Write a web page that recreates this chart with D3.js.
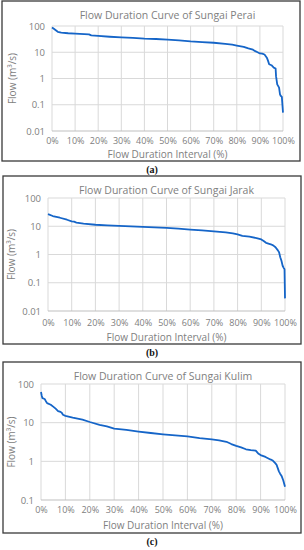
<!DOCTYPE html>
<html>
<head>
<meta charset="utf-8">
<script src="https://cdn.jsdelivr.net/npm/d3@7"></script>
<style>
  body { margin: 0; background: #fff; }
  svg { display: block; }
  text { font-family: "Open Sans", "Noto Sans", sans-serif; }
</style>
</head>
<body>
<div class="canvas"></div>
<script>
// flow duration data (percent exceeded, m3/s)
const peraiPct  = [0, 0.5, 1.5, 2.5, 4, 7, 10, 14, 16, 17, 20, 25, 30, 35, 40, 45, 50, 55, 60, 65, 70, 75, 78, 80, 83, 85, 87, 88, 89, 90, 91, 92, 93, 93.5, 94, 95, 96, 96.8, 97, 97.5, 98, 98.3, 98.7, 99, 99.5, 100];
const peraiFlow = [88, 82, 70, 60, 56, 53, 51, 49, 48, 44, 42, 39, 37, 35, 33, 32, 30, 28.5, 26, 24.5, 23, 21, 19.5, 18, 16, 14, 12.5, 11, 10, 9, 8.8, 8.2, 6.2, 4.8, 3.5, 3.2, 2.6, 2.4, 1.2, 0.6, 0.5, 0.45, 0.25, 0.22, 0.2, 0.05];

const jarakPct  = [0, 2, 5, 8, 10, 11, 12, 15, 20, 25, 30, 40, 50, 55, 60, 65, 70, 75, 78, 80, 82, 85, 88, 90, 91, 92, 94, 95, 96, 97, 97.5, 98, 98.5, 99, 99.5, 99.8, 100];
const jarakFlow = [27, 23, 20, 17, 15, 14.5, 13.5, 12.4, 11.3, 10.8, 10.3, 9.5, 8.7, 8.2, 7.6, 7.1, 6.6, 6.1, 5.6, 5.2, 4.6, 4.3, 3.8, 3.4, 3.0, 2.6, 2.3, 2.1, 1.8, 1.4, 1.2, 0.8, 0.6, 0.4, 0.33, 0.3, 0.028];

const kulimPct  = [0, 0.3, 0.6, 1.5, 2, 2.5, 4, 5, 6, 7, 8, 8.5, 9, 10, 13, 17, 20, 24, 27, 30, 35, 40, 45, 50, 55, 60, 65, 70, 73, 76, 78, 80, 82, 84, 86, 88, 89, 90, 92, 94, 95, 96, 96.6, 97.5, 98, 98.6, 99.3, 100];
const kulimFlow = [62, 50, 43, 41, 36, 32, 29, 26, 23, 20, 19, 18, 16, 15, 13.5, 12, 10.4, 8.8, 8, 7, 6.5, 5.9, 5.4, 5.0, 4.7, 4.4, 4.0, 3.7, 3.5, 3.2, 2.8, 2.5, 2.3, 2.05, 1.95, 1.9, 1.6, 1.45, 1.3, 1.12, 1.05, 0.9, 0.8, 0.55, 0.48, 0.42, 0.32, 0.22];

const xTicks = [0, 10, 20, 30, 40, 50, 60, 70, 80, 90, 100];
const yTicksAB = [0.01, 0.1, 1, 10, 100];
const yTicksC = [0.1, 1, 10, 100];
const titles = ['Flow Duration Curve of Sungai Perai', 'Flow Duration Curve of Sungai Jarak', 'Flow Duration Curve of Sungai Kulim'];
const panelLabels = ['(a)', '(b)', '(c)'];

const width = 304, height = 550;
const svg = d3.select('.canvas').append('svg')
    .attr('width', width)
    .attr('height', height);

// layout of each boxed chart
const panels = [
  {pct: peraiPct, flow: peraiFlow, ticks: yTicksAB, frame: [2, 1, 300, 161], plot: [52, 26, 283, 131], yTitleX: 13, tickDy: 11, titleDy: 24.5},
  {pct: jarakPct, flow: jarakFlow, ticks: yTicksAB, frame: [3, 176, 301, 344], plot: [48, 198, 285, 311], yTitleX: 12, tickDy: 13, titleDy: 27},
  {pct: kulimPct, flow: kulimFlow, ticks: yTicksC, frame: [3, 362, 301, 533], plot: [41, 384, 285, 500], yTitleX: 12, tickDy: 11, titleDy: 26}
];

const grey = '#808080';

panels.forEach((p, i) => {
  const g = svg.append('g');
  const [fx0, fy0, fx1, fy1] = p.frame;
  const [px0, py0, px1, py1] = p.plot;

  g.append('rect')
    .attr('x', fx0).attr('y', fy0)
    .attr('width', fx1 - fx0).attr('height', fy1 - fy0)
    .attr('fill', 'none')
    .attr('stroke', '#3a3a3a')
    .attr('stroke-width', 1.3);

  const x = d3.scaleLinear().domain([0, 100]).range([px0, px1]);
  const y = d3.scaleLog().domain(d3.extent(p.ticks)).range([py1, py0]);

  // grid
  g.append('g').selectAll('line')
    .data(xTicks).join('line')
    .attr('x1', d => x(d)).attr('x2', d => x(d))
    .attr('y1', py0).attr('y2', py1)
    .attr('stroke', '#d9d9d9').attr('stroke-width', 1);
  g.append('g').selectAll('line')
    .data(p.ticks).join('line')
    .attr('x1', px0).attr('x2', px1)
    .attr('y1', d => y(d)).attr('y2', d => y(d))
    .attr('stroke', d => d === p.ticks[0] ? '#bfbfbf' : '#d9d9d9')
    .attr('stroke-width', 1);

  // axes (labels only, Excel style)
  const xAxis = g.append('g')
    .attr('transform', `translate(0,${py1 + p.tickDy})`)
    .call(d3.axisBottom(x).tickValues(xTicks).tickFormat(d => d + '%').tickSize(0));
  xAxis.select('.domain').remove();
  xAxis.selectAll('text').attr('dy', 0).attr('y', 0)
    .attr('dominant-baseline', 'middle')
    .attr('fill', grey).attr('font-size', 9)
    .style('font-family', '"Open Sans", sans-serif');

  const yAxis = g.append('g')
    .attr('transform', `translate(${px0 - 7},0)`)
    .call(d3.axisLeft(y).tickValues(p.ticks).tickFormat(d => String(d)).tickSize(0).tickPadding(0));
  yAxis.select('.domain').remove();
  yAxis.selectAll('text')
    .attr('fill', grey).attr('font-size', 9.5)
    .style('font-family', '"Open Sans", sans-serif');

  // curve
  const pts = p.pct.map((d, k) => [d, p.flow[k]]);
  g.append('path')
    .datum(pts)
    .attr('fill', 'none')
    .attr('stroke', '#1565c8')
    .attr('stroke-width', 1.8)
    .attr('stroke-linejoin', 'round')
    .attr('d', d3.line().x(d => x(d[0])).y(d => y(d[1])));

  // titles
  g.append('text')
    .attr('x', (px0 + px1) / 2).attr('y', fy0 + 15)
    .attr('text-anchor', 'middle').attr('dominant-baseline', 'middle')
    .attr('fill', grey).attr('font-size', 10.5)
    .text(titles[i]);

  g.append('text')
    .attr('x', (px0 + px1) / 2).attr('y', py1 + p.titleDy)
    .attr('text-anchor', 'middle').attr('dominant-baseline', 'middle')
    .attr('fill', grey).attr('font-size', 10)
    .text('Flow Duration Interval (%)');

  g.append('text')
    .attr('transform', `translate(${p.yTitleX},${(py0 + py1) / 2}) rotate(-90)`)
    .attr('text-anchor', 'middle').attr('dominant-baseline', 'middle')
    .attr('fill', grey).attr('font-size', 10)
    .text('Flow (m³/s)');

  g.append('text')
    .attr('x', width / 2).attr('y', fy1 + 10)
    .attr('text-anchor', 'middle').attr('dominant-baseline', 'middle')
    .attr('fill', '#111').attr('font-size', 10).attr('font-weight', 'bold')
    .style('font-family', '"Liberation Serif", "DejaVu Serif", serif')
    .text(panelLabels[i]);
});
</script>
</body>
</html>
